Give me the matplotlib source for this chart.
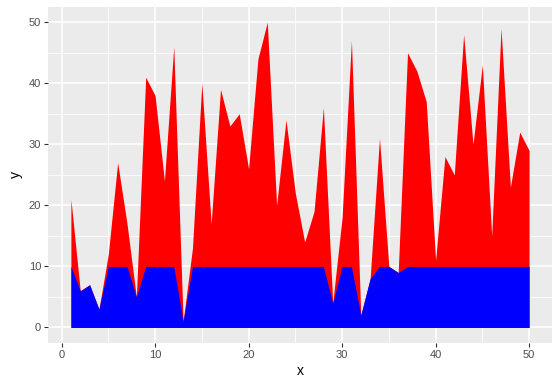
import numpy as np
import matplotlib
matplotlib.use('Agg')
import matplotlib.pyplot as plt

# Datos
x = list(range(1, 51))
y = [21, 6, 7, 3, 12, 27, 17, 5, 41, 38,
     24, 46, 1, 13, 40, 17, 39, 33, 35, 26,
     44, 50, 20, 34, 22, 14, 19, 36, 4, 18,
     47, 2, 8, 31, 10, 9, 45, 42, 37, 11,
     28, 25, 48, 30, 43, 15, 49, 23, 32, 29]
cap = 10

x_ticks = [0, 10, 20, 30, 40, 50]
y_ticks = [0, 10, 20, 30, 40, 50]

plt.rcParams['font.family'] = ['Liberation Sans', 'DejaVu Sans']

fig = plt.figure(figsize=(5.6, 3.83), dpi=100)
ax = fig.add_axes([48 / 560, 1 - 342.7 / 383, 504 / 560, 335.7 / 383])

y_arr = np.array(y)
ax.fill_between(x, 0, y_arr, color='red', linewidth=0, zorder=2)
ax.fill_between(x, 0, np.minimum(y_arr, cap), color='blue', linewidth=0, zorder=3)

# Estilo tipo ggplot
ax.set_facecolor('#EBEBEB')
for s in ax.spines.values():
    s.set_visible(False)
ax.set_xlim(-1.45, 52.45)
ax.set_ylim(-2.5, 52.5)
ax.set_xticks(x_ticks)
ax.set_yticks(y_ticks)
ax.set_xticks([5, 15, 25, 35, 45], minor=True)
ax.set_yticks([5, 15, 25, 35, 45], minor=True)
ax.grid(which='major', color='white', linewidth=1.1, zorder=0)
ax.grid(which='minor', color='white', linewidth=0.55, zorder=0)
ax.set_axisbelow(True)
ax.tick_params(which='major', colors='#333333', length=3, width=0.8, labelsize=8,
               labelcolor='#4D4D4D', pad=2)
ax.tick_params(which='minor', length=0)
ax.set_xlabel('x', fontsize=10, labelpad=3)
ax.set_ylabel('y', fontsize=10, labelpad=4)

fig.savefig('out.png', dpi=100)
